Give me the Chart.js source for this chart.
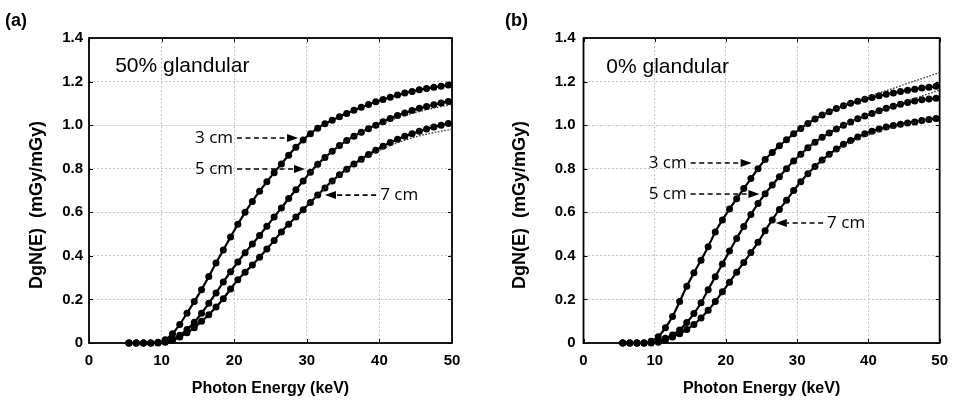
<!DOCTYPE html>
<html>
<head>
<meta charset="utf-8">
<script src="https://cdn.jsdelivr.net/npm/chart.js@4.4.1/dist/chart.umd.min.js"></script>
<style>
  html, body { margin: 0; padding: 0; background: #fff; }
  #wrap { position: relative; width: 957px; height: 403px; overflow: hidden; }
  .panel { position: absolute; top: 0; height: 403px; }
</style>
</head>
<body>
<div id="wrap">
  <div class="panel" style="left:0;width:478px"><canvas id="chartA" width="478" height="403"></canvas></div>
  <div class="panel" style="left:478px;width:479px"><canvas id="chartB" width="479" height="403"></canvas></div>
</div>
<script>
// Photon energies (keV) of the sampled DgN(E) points
const energies = [5.5,6.5,7.5,8.5,9.5,10.5,11.5,12.5,13.5,14.5,
  15.5,16.5,17.5,18.5,19.5,20.5,21.5,22.5,23.5,24.5,
  25.5,26.5,27.5,28.5,29.5,30.5,31.5,32.5,33.5,34.5,
  35.5,36.5,37.5,38.5,39.5,40.5,41.5,42.5,43.5,44.5,
  45.5,46.5,47.5,48.5,49.5];

// 50% glandular breast, thickness 3, 5, 7 cm
const glandular50_3cm = [0,0,0,0,0.003,0.015,0.042,0.085,0.137,0.19,
  0.245,0.305,0.367,0.427,0.486,0.545,0.6,0.65,0.697,0.74,
  0.782,0.822,0.862,0.898,0.932,0.961,0.986,1.006,1.023,1.039,
  1.054,1.068,1.082,1.095,1.107,1.118,1.128,1.138,1.147,1.155,
  1.162,1.168,1.174,1.179,1.184];
const glandular50_5cm = [0,0,0,0,0.001,0.006,0.018,0.036,0.062,0.095,
  0.137,0.182,0.23,0.28,0.327,0.372,0.414,0.454,0.494,0.536,
  0.578,0.62,0.663,0.703,0.744,0.784,0.82,0.852,0.88,0.906,
  0.929,0.949,0.967,0.984,1.0,1.016,1.031,1.044,1.056,1.067,
  1.077,1.086,1.094,1.102,1.109];
const glandular50_7cm = [0,0,0,0,0,0.004,0.013,0.028,0.047,0.07,
  0.1,0.13,0.165,0.203,0.248,0.29,0.325,0.358,0.394,0.432,
  0.47,0.51,0.545,0.578,0.612,0.645,0.679,0.712,0.744,0.772,
  0.798,0.822,0.844,0.865,0.885,0.903,0.92,0.935,0.949,0.961,
  0.972,0.982,0.991,1.0,1.008];

// 0% glandular breast, thickness 3, 5, 7 cm
const glandular0_3cm = [0,0,0,0,0.008,0.029,0.07,0.122,0.19,0.26,
  0.322,0.38,0.442,0.51,0.565,0.615,0.662,0.709,0.755,0.8,
  0.842,0.875,0.905,0.933,0.96,0.985,1.008,1.028,1.046,1.062,
  1.076,1.089,1.1,1.11,1.119,1.127,1.135,1.142,1.148,1.154,
  1.16,1.165,1.17,1.174,1.178];
const glandular0_5cm = [0,0,0,0,0.002,0.008,0.022,0.037,0.06,0.094,
  0.135,0.185,0.245,0.304,0.363,0.422,0.48,0.535,0.59,0.64,
  0.685,0.725,0.763,0.8,0.835,0.866,0.896,0.922,0.944,0.964,
  0.982,0.999,1.015,1.029,1.042,1.054,1.066,1.077,1.087,1.096,
  1.104,1.111,1.116,1.12,1.123];
const glandular0_7cm = [0,0,0,0,0,0.004,0.014,0.028,0.043,0.062,
  0.085,0.115,0.15,0.19,0.235,0.279,0.325,0.37,0.415,0.462,
  0.515,0.565,0.613,0.655,0.7,0.74,0.777,0.81,0.84,0.866,
  0.89,0.912,0.93,0.946,0.96,0.972,0.982,0.991,0.998,1.004,
  1.01,1.015,1.021,1.026,1.031];

// Fitted curves (dotted) over the high-energy range
const fitEnergies = [30,32,34,36,38,40,42,44,46,48,50];
const fit50_5cm = [0.764,0.836,0.893,0.939,0.974,1.003,1.028,1.049,1.067,1.082,1.095];
const fit50_7cm = [0.628,0.695,0.756,0.806,0.848,0.884,0.913,0.936,0.955,0.969,0.981];
const fit0_3cm  = [0.972,1.018,1.054,1.083,1.108,1.131,1.153,1.175,1.197,1.219,1.242];
const fit0_5cm  = [0.85,0.909,0.954,0.99,1.022,1.048,1.072,1.095,1.117,1.139,1.161];
const fit0_7cm  = [0.715,0.79,0.848,0.893,0.928,0.955,0.977,0.995,1.01,1.022,1.032];

// Axis ticks
const xTickValues = [0,10,20,30,40,50];
const xTickLabels = ['0','10','20','30','40','50'];
const yTickValues = [0,0.2,0.4,0.6,0.8,1.0,1.2,1.4];
const yTickLabels = ['0','0.2','0.4','0.6','0.8','1.0','1.2','1.4'];

const SANS = "'Liberation Sans', Arial, Helvetica, sans-serif";
Chart.defaults.font.family = SANS;
Chart.defaults.color = '#000';

function points(xs, ys) { return xs.map((x, i) => ({ x: x, y: ys[i] })); }

function measuredSet(values) {
  return {
    data: points(energies, values),
    borderColor: '#000', borderWidth: 2.2,
    pointRadius: 3.5, pointBackgroundColor: '#000', pointBorderWidth: 0,
    pointHoverRadius: 3.5,
    cubicInterpolationMode: 'monotone',
    clip: 6, order: 2
  };
}
function fitSet(values) {
  return {
    data: points(fitEnergies, values),
    borderColor: '#333', borderWidth: 1.3, borderDash: [1.6, 1.6],
    pointRadius: 0, cubicInterpolationMode: 'monotone',
    clip: 2, order: 1
  };
}

// Frame, inner ticks, titles and arrow labels for one panel
function decorPlugin(p) {
  return {
    id: 'panelDecor',
    beforeDatasetsDraw(chart) {
      const { ctx, chartArea: a, scales: { x, y } } = chart;
      ctx.save();
      ctx.strokeStyle = '#000';
      ctx.lineWidth = 1;
      ctx.beginPath();
      xTickValues.forEach(v => {
        const px = Math.round(x.getPixelForValue(v)) + 0.5;
        ctx.moveTo(px, a.bottom); ctx.lineTo(px, a.bottom - 4);
        ctx.moveTo(px, a.top); ctx.lineTo(px, a.top + 4);
      });
      yTickValues.forEach(v => {
        const py = Math.round(y.getPixelForValue(v)) + 0.5;
        ctx.moveTo(a.left, py); ctx.lineTo(a.left + 4, py);
        ctx.moveTo(a.right, py); ctx.lineTo(a.right - 4, py);
      });
      ctx.stroke();
      ctx.lineWidth = 1.8;
      ctx.strokeRect(a.left, a.top, a.right - a.left, a.bottom - a.top);
      ctx.restore();
    },
    afterDraw(chart) {
      const { ctx, scales: { x, y } } = chart;
      ctx.save();
      ctx.fillStyle = '#000';
      ctx.strokeStyle = '#000';

      // panel tag
      ctx.font = 'bold 18px ' + SANS;
      ctx.textAlign = 'left'; ctx.textBaseline = 'middle';
      ctx.fillText(p.tag, p.tagX, 21);

      // y axis title
      ctx.save();
      ctx.translate(p.yTitleX, 205);
      ctx.rotate(-Math.PI / 2);
      ctx.font = 'bold 18px ' + SANS;
      ctx.textAlign = 'center'; ctx.textBaseline = 'middle';
      ctx.fillText('DgN(E)  (mGy/mGy)', 0, 0);
      ctx.restore();

      // composition note
      ctx.font = '21px ' + SANS;
      ctx.textAlign = 'left'; ctx.textBaseline = 'alphabetic';
      ctx.fillText(p.note, x.getPixelForValue(p.noteE), y.getPixelForValue(p.noteV));

      // thickness labels with dashed arrows
      ctx.font = "17px 'Open Sans', 'DejaVu Sans', sans-serif";
      ctx.textBaseline = 'middle';
      p.arrows.forEach(ar => {
        const py = y.getPixelForValue(ar.v);
        const tx = x.getPixelForValue(ar.textE);
        const tip = x.getPixelForValue(ar.tipE);
        const w = ctx.measureText(ar.text).width;
        ctx.fillText(ar.text, tx, py);
        let from, dir;
        if (tip > tx) { from = tx + w + 4; dir = 1; } else { from = tx - 4; dir = -1; }
        const head = 11;
        ctx.save();
        ctx.lineWidth = 1.6;
        ctx.setLineDash([5, 3.5]);
        ctx.beginPath();
        ctx.moveTo(from, py);
        ctx.lineTo(tip - dir * head, py);
        ctx.stroke();
        ctx.restore();
        ctx.beginPath();
        ctx.moveTo(tip, py);
        ctx.lineTo(tip - dir * head, py - 4);
        ctx.lineTo(tip - dir * head, py + 4);
        ctx.closePath();
        ctx.fill();
      });
      ctx.restore();
    }
  };
}

function makeChart(id, sets, fits, p) {
  const datasets = fits.map(fitSet).concat(sets.map(measuredSet));
  return new Chart(document.getElementById(id), {
    type: 'line',
    data: { datasets: datasets },
    options: {
      responsive: false,
      animation: false,
      events: [],
      layout: { padding: { left: 0, right: p.padRight, top: 38, bottom: 0 } },
      plugins: { legend: { display: false }, tooltip: { enabled: false } },
      scales: {
        x: {
          type: 'linear', min: 0, max: 50,
          afterBuildTicks: s => { s.ticks = xTickValues.map(v => ({ value: v })); },
          afterFit: s => { s.height = 60; },
          ticks: {
            callback: (v, i) => xTickLabels[i],
            font: { size: 15, weight: 'bold' }, color: '#000', padding: 9, maxRotation: 0
          },
          grid: { color: '#c4c4c4', lineWidth: 1, drawTicks: false },
          border: { display: false, dash: [2, 2] },
          title: {
            display: true, text: 'Photon Energy (keV)',
            font: { size: 16, weight: 'bold' }, color: '#000',
            padding: { top: 0, bottom: 5 }
          }
        },
        y: {
          type: 'linear', min: 0, max: 1.4,
          afterBuildTicks: s => { s.ticks = yTickValues.map(v => ({ value: v })); },
          afterFit: s => { s.width = p.yWidth; },
          ticks: {
            callback: (v, i) => yTickLabels[i],
            font: { size: 15, weight: 'bold' }, color: '#000', padding: p.yPad
          },
          grid: { color: '#c4c4c4', lineWidth: 1, drawTicks: false },
          border: { display: false, dash: [2, 2] }
        }
      }
    },
    plugins: [decorPlugin(p)]
  });
}

makeChart('chartA',
  [glandular50_3cm, glandular50_5cm, glandular50_7cm],
  [fit50_5cm, fit50_7cm],
  {
    tag: '(a)', tagX: 5, yTitleX: 37, yWidth: 89, yPad: 6, padRight: 26,
    note: '50% glandular', noteE: 3.6, noteV: 1.244,
    arrows: [
      { text: '3 cm', textE: 14.6, tipE: 28.8, v: 0.941 },
      { text: '5 cm', textE: 14.6, tipE: 29.75, v: 0.799 },
      { text: '7 cm', textE: 40.1, tipE: 32.5, v: 0.679 }
    ]
  });

makeChart('chartB',
  [glandular0_3cm, glandular0_5cm, glandular0_7cm],
  [fit0_3cm, fit0_5cm, fit0_7cm],
  {
    tag: '(b)', tagX: 27, yTitleX: 42, yWidth: 105.5, yPad: 8, padRight: 10,
    note: '0% glandular', noteE: 3.2, noteV: 1.24,
    arrows: [
      { text: '3 cm', textE: 9.15, tipE: 23.6, v: 0.826 },
      { text: '5 cm', textE: 9.15, tipE: 24.7, v: 0.684 },
      { text: '7 cm', textE: 34.2, tipE: 27.0, v: 0.551 }
    ]
  });
</script>
</body>
</html>
